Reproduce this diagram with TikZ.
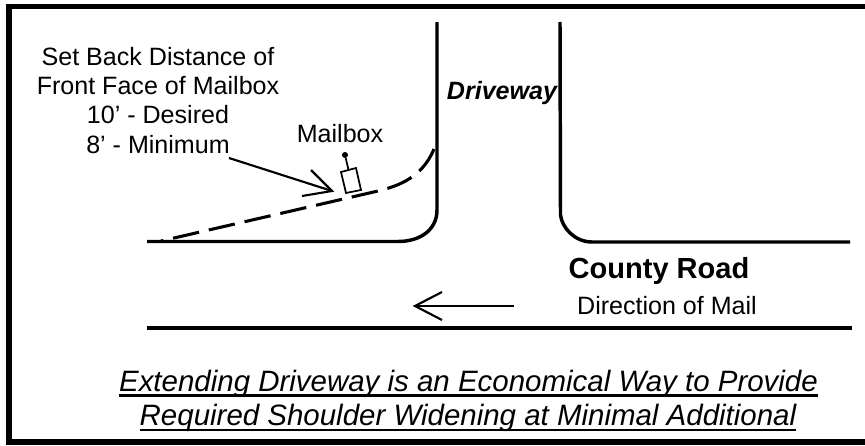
\documentclass[tikz,border=0pt]{standalone}
\usepackage{fontspec}
\setmainfont{Liberation Sans}
\newcommand{\ruledtext}[1]{\leavevmode\setbox0\hbox{#1}\rlap{\rule[-4.4pt]{\wd0}{1.8pt}}\box0}
\tikzstyle{vertex}=[inner sep=0pt, anchor=base, font=\fontsize{18.8}{21.9}\selectfont]
\tikzstyle{note}=[vertex, font=\fontsize{22.1}{26}\selectfont\itshape]
\tikzstyle{road}=[line width=2.6pt]
\tikzstyle{shoulder}=[line width=2.3pt, dash pattern=on 20pt off 7.5pt, dash phase=18.2pt]
\tikzstyle{pointer}=[line width=1.6pt]
\tikzstyle{box}=[line width=1.3pt]

\begin{document}
\begin{tikzpicture}[x=0.75pt, y=-0.75pt]
      \useasboundingbox (0, 0) rectangle (865, 446);
      \draw[line width=4.4pt] (865, 6.5) -- (9, 6.5) -- (9, 442) -- (865, 442);

      \node[vertex, align=center] (setback) at (158, 153) {Set Back Distance of\\Front Face of Mailbox\\10’ - Desired\\8’ - Minimum};
      \node[vertex] (mailbox) at (340, 142) {Mailbox};
      \node[vertex, font=\fontsize{18.8}{21.9}\selectfont\bfseries\itshape] (driveway) at (502, 99) {Driveway};
      \node[vertex, font=\fontsize{21.8}{26}\selectfont\bfseries] (county) at (659, 278) {County Road};
      \node[vertex] (direction) at (667, 314) {Direction of Mail};
      \node[note] (note1) at (468.5, 391) {\ruledtext{Extending Driveway is an Economical Way to Provide}};
      \node[note] (note2) at (468, 425.5) {\ruledtext{Required Shoulder Widening at Minimal Additional}};

      \coordinate (lefttop) at (437, 22);
      \coordinate (leftend) at (147, 241.5);
      \coordinate (righttop) at (560, 22);
      \coordinate (rightend) at (850, 242);
      \coordinate (roadleft) at (147, 328);
      \coordinate (roadright) at (852, 328);
      \draw[road] (lefttop) -- (437, 210) .. controls (437, 230) and (420, 241.5) .. (398, 241.5) -- (leftend);
      \draw[road] (righttop) -- (560.5, 215) .. controls (562, 228) and (575, 242) .. (592, 242) -- (rightend);
      \draw[road] (roadleft) -- (roadright);

      \coordinate (dashstart) at (161, 241);
      \coordinate (dashend) at (434, 149);
      \draw[shoulder] (dashstart) -- (378, 191) .. controls (398, 186) and (422, 178) .. (dashend);

      \coordinate (tail) at (229, 158);
      \coordinate (tip) at (332, 191);
      \coordinate (barb1) at (311, 170);
      \coordinate (barb2) at (302, 196);
      \draw[pointer] (tail) -- (tip);
      \draw[pointer] (barb1) -- (tip) -- (barb2);

      \coordinate (mailtail) at (514, 306);
      \coordinate (mailtip) at (415, 306);
      \coordinate (mailbarb1) at (442, 292);
      \coordinate (mailbarb2) at (442, 320);
      \draw[pointer] (mailtail) -- (mailtip);
      \draw[pointer] (mailbarb1) -- (mailtip) -- (mailbarb2);

      \draw[box] (341, 172) -- (356, 168) -- (361, 190) -- (346, 193) -- cycle;
      \coordinate (postfoot) at (348.5, 170);
      \node[circle, fill=black, inner sep=0pt, minimum size=4.5pt] (postdot) at (345, 155) {};
      \draw[box] (postdot) -- (postfoot);
    \end{tikzpicture}
\end{document}
